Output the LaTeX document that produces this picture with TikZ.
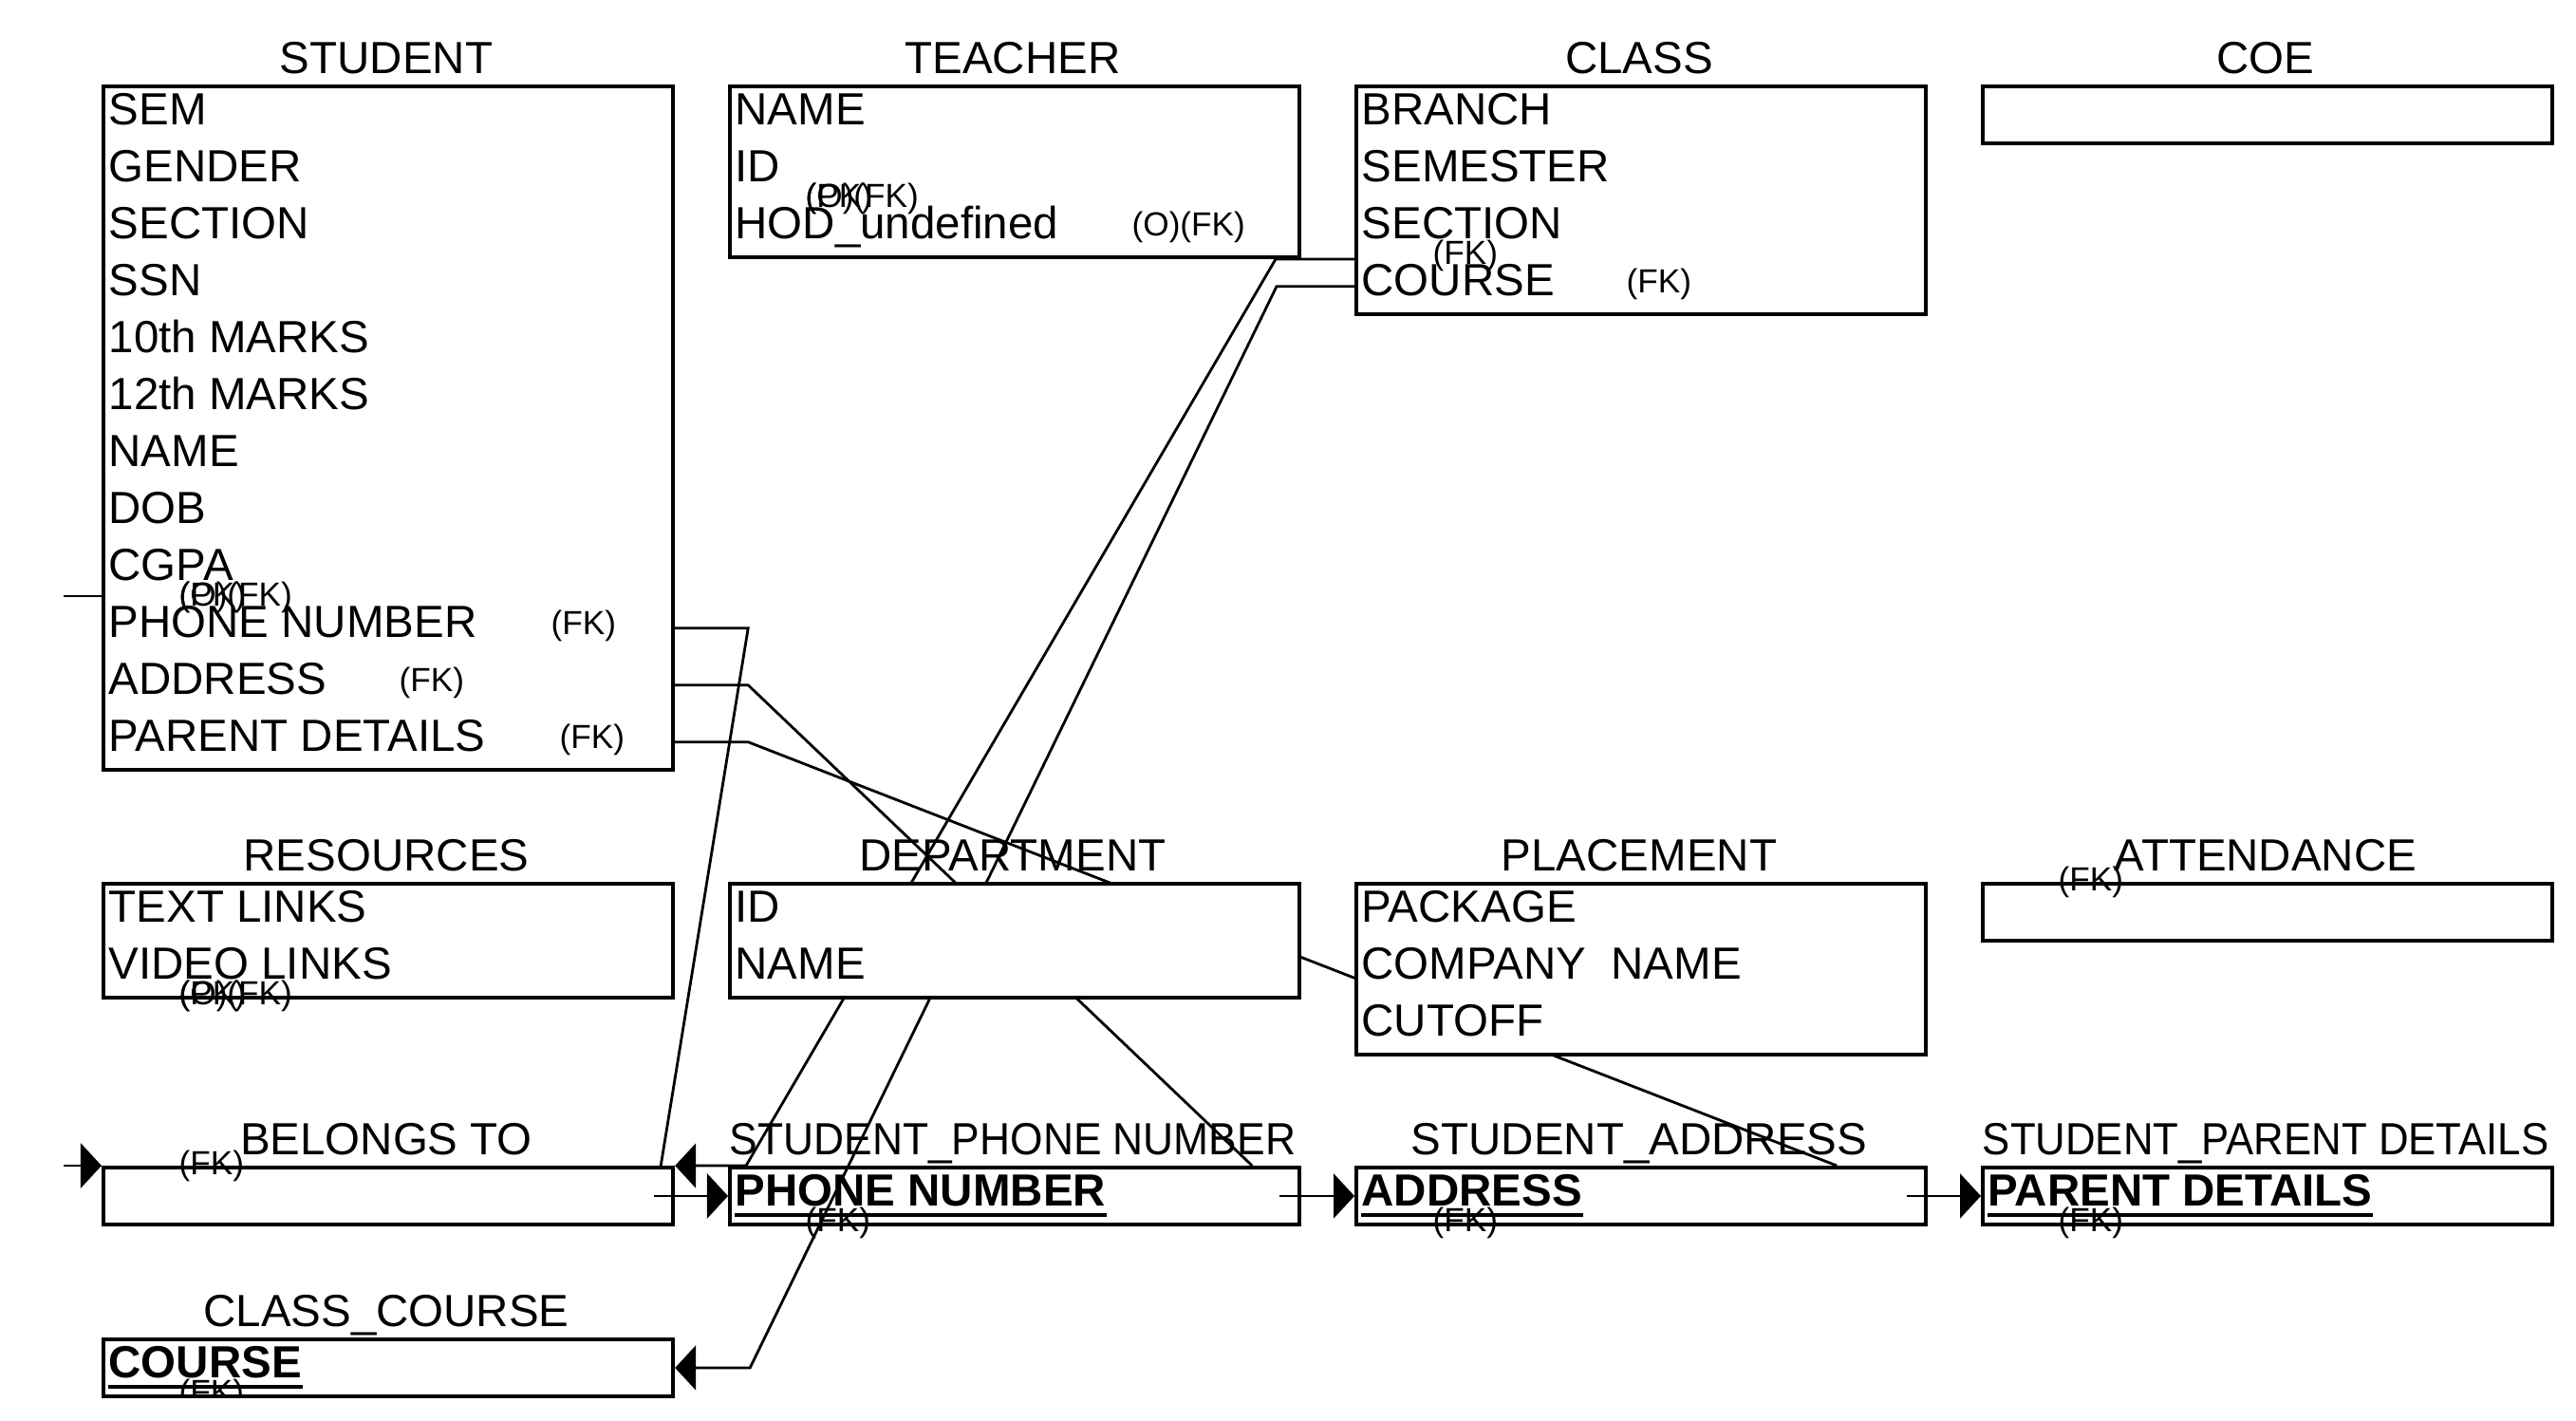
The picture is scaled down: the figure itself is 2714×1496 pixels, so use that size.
\documentclass[tikz,border=0pt]{standalone}
\usepackage{graphicx}
\usepackage{fontspec}
\setmainfont{Liberation Sans}
\usepackage{tikz}
\usetikzlibrary{arrows.meta, calc}
\pgfdeclarelayer{background}
\pgfsetlayers{background,main}
\tikzset{
  entity/.style={draw, line width=1.1pt, fill=white, minimum width=6cm, anchor=north west, inner sep=0pt},
  linkbox/.style={entity, fill=none},
  ttl/.style={anchor=base, inner sep=0pt, font=\fontsize{13.5}{16}\selectfont},
  attr/.style={anchor=base west, inner sep=0pt, font=\fontsize{13.5}{16}\selectfont},
  keyattr/.style={attr, font=\fontsize{13.5}{16}\selectfont\bfseries},
  fk/.style={anchor=base west, inner sep=0pt, font=\fontsize{10}{12}\selectfont},
  link/.style={line width=0.8pt},
  tip/.style={link, -{Triangle[length=0.22cm, width=0.47cm]}},
  keyline/.style={line width=1.1pt}
}
\begin{document}
\begin{tikzpicture}[x=0.01cm, y=-0.01cm]
\useasboundingbox (0,0) rectangle (2714,1496);
\node[entity, minimum height=7.2cm] (stu) at (107,89) {};
\node[entity, minimum height=1.8cm] (tea) at (767,89) {};
\node[entity, minimum height=2.4cm] (cls) at (1427,89) {};
\node[entity, minimum height=0.6cm] (coe) at (2087,89) {};
\node[entity, minimum height=1.2cm] (res) at (107,929) {};
\node[entity, minimum height=1.2cm] (dep) at (767,929) {};
\node[entity, minimum height=1.8cm] (plc) at (1427,929) {};
\node[entity, minimum height=0.6cm] (att) at (2087,929) {};
\node[linkbox, minimum height=0.6cm] (bel) at (107,1228) {};
\node[linkbox, minimum height=0.6cm] (sph) at (767,1228) {};
\node[linkbox, minimum height=0.6cm] (sad) at (1427,1228) {};
\node[linkbox, minimum height=0.6cm] (spd) at (2087,1228) {};
\node[linkbox, minimum height=0.6cm] (ccr) at (107,1409) {};

\node[ttl] (stut) at (407,77) {STUDENT};
\node[ttl] (teat) at (1067,77) {TEACHER};
\node[ttl] (clst) at (1727,77) {CLASS};
\node[ttl] (coet) at (2387,77) {COE};
\node[ttl] (rest) at (407,917) {RESOURCES};
\node[ttl] (dept) at (1067,917) {DEPARTMENT};
\node[ttl] (plct) at (1727,917) {PLACEMENT};
\node[ttl] (attt) at (2387,917) {ATTENDANCE};
\node[ttl] (belt) at (407,1216) {BELONGS TO};
\node[ttl] (spht) at (1067,1216) {\resizebox{5.96cm}{\height}{STUDENT\_PHONE NUMBER}};
\node[ttl] (sadt) at (1727,1216) {STUDENT\_ADDRESS};
\node[ttl] (spdt) at (2387,1216) {\resizebox{5.96cm}{\height}{STUDENT\_PARENT DETAILS}};
\node[ttl] (ccrt) at (407,1397) {CLASS\_COURSE};

\node[attr] (stu1) at (114,131) {SEM};
\node[attr] (stu2) at (114,191) {GENDER};
\node[attr] (stu3) at (114,251) {SECTION};
\node[attr] (stu4) at (114,311) {SSN};
\node[attr] (stu5) at (114,371) {10th MARKS};
\node[attr] (stu6) at (114,431) {12th MARKS};
\node[attr] (stu7) at (114,491) {NAME};
\node[attr] (stu8) at (114,551) {DOB};
\node[attr] (stu9) at (114,611) {CGPA};
\node[attr] (stu10) at (114,671) {PHONE NUMBER};
\node[attr] (stu11) at (114,731) {ADDRESS};
\node[attr] (stu12) at (114,791) {PARENT DETAILS};
\node[attr] (tea1) at (774,131) {NAME};
\node[attr] (tea2) at (774,191) {ID};
\node[attr] (tea3) at (774,251) {HOD\_undefined};
\node[attr] (cls1) at (1434,131) {BRANCH};
\node[attr] (cls2) at (1434,191) {SEMESTER};
\node[attr] (cls3) at (1434,251) {SECTION};
\node[attr] (cls4) at (1434,311) {COURSE};
\node[attr] (res1) at (114,971) {TEXT LINKS};
\node[attr] (res2) at (114,1031) {VIDEO LINKS};
\node[attr] (dep1) at (774,971) {ID};
\node[attr] (dep2) at (774,1031) {NAME};
\node[attr] (plc1) at (1434,971) {PACKAGE};
\node[attr] (plc2) at (1434,1031) {COMPANY\ \ NAME};
\node[attr] (plc3) at (1434,1091) {CUTOFF};
\node[keyattr] (sph1) at (774,1270) {PHONE NUMBER};
\node[keyattr] (sad1) at (1434,1270) {ADDRESS};
\node[keyattr] (spd1) at (2094,1270) {PARENT DETAILS};
\node[keyattr] (ccr1) at (114,1451) {COURSE};
\draw[keyline] ($(sph1.base west)+(0,10)$) -- ($(sph1.base east)+(0,10)$);
\draw[keyline] ($(sad1.base west)+(0,10)$) -- ($(sad1.base east)+(0,10)$);
\draw[keyline] ($(spd1.base west)+(0,10)$) -- ($(spd1.base east)+(0,10)$);
\draw[keyline] ($(ccr1.base west)+(0,10)$) -- ($(ccr1.base east)+(0,10)$);

\node[fk] (teapk) at (848,218) {(PK)};
\node[fk] (teafk) at (848,218) {(O)(FK)};
\node[fk] (teahod) at (1192,248) {(O)(FK)};
\node[fk] (stupk) at (188,638) {(PK)};
\node[fk] (stufk) at (188,638) {(O)(FK)};
\node[fk] (stufk1) at (580,668) {(FK)};
\node[fk] (stufk2) at (420,728) {(FK)};
\node[fk] (stufk3) at (589,788) {(FK)};
\node[fk] (clsfk1) at (1509,278) {(FK)};
\node[fk] (clsfk2) at (1713,308) {(FK)};
\node[fk] (respk) at (188,1058) {(PK)};
\node[fk] (resfk) at (188,1058) {(O)(FK)};
\node[fk] (attfk) at (2168,938) {(FK)};
\node[fk] (belfk) at (188,1237) {(FK)};
\node[fk] (sphfk) at (848,1297) {(FK)};
\node[fk] (sadfk) at (1509,1297) {(FK)};
\node[fk] (spdfk) at (2168,1297) {(FK)};
\begin{scope}
\clip (ccr.north west) rectangle (ccr.south east);
\node[fk] (ccrfk) at (188,1478) {(FK)};
\end{scope}

\coordinate (stustub) at (67,628);
\coordinate (belstub) at (67,1228);
\begin{pgfonlayer}{background}
\draw[link] (stustub) -- (stustub -| stu.west);
\draw[tip] (belstub) -- (bel.north west);
\draw[link] (stu.east |- stu10.mid) -- ++(77,0) -- ($(bel.north east)+(-15,0)$);
\draw[link] (stu.east |- stu11.mid) -- ++(77,0) -- ($(sph.north east)+(-52,0)$);
\draw[link] (stu.east |- stu12.mid) -- ++(77,0) -- ($(sad.north east)+(-96,0)$);
\draw[tip] (cls.west |- tea.south) -- ++(-83,0) -- ($(sph.north west)+(19,0)$) -- (bel.north east);
\draw[tip] (cls.west |- cls4.mid) -- ++(-82,0) -- ($(ccr.east)+(79,0)$) -- (ccr.east);
\draw[tip] ($(bel.east)+(-22,0)$) -- (sph.west);
\draw[tip] ($(sph.east)+(-23,0)$) -- (sad.west);
\draw[tip] ($(sad.east)+(-22,0)$) -- (spd.west);
\end{pgfonlayer}
\end{tikzpicture}
\end{document}
